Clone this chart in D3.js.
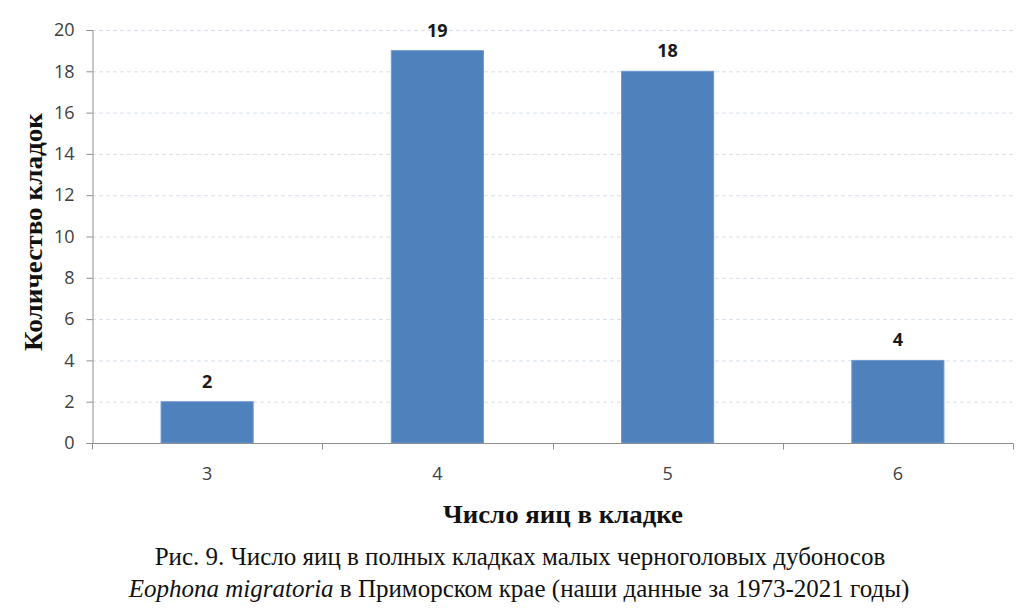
<!DOCTYPE html>
<html>
<head>
<meta charset="utf-8">
<script src="https://cdn.jsdelivr.net/npm/d3@7"></script>
<style>
	body { margin: 0; background: #fff; }
	svg { display: block; }
</style>
</head>
<body>
<div id="chart"></div>
<script>
var eggs = ["3", "4", "5", "6"];
var clutches = [2, 19, 18, 4];
var yTicks = [0, 2, 4, 6, 8, 10, 12, 14, 16, 18, 20];

var width = 1024,
	height = 610;
var plot = {left: 92, right: 1013, top: 30, bottom: 443};

var svg = d3.select("#chart")
	.append("svg")
	.attr("width", width)
	.attr("height", height);

var x = d3.scaleBand()
	.domain(eggs)
	.range([plot.left, plot.right])
	.paddingInner(0.6)
	.paddingOuter(0.3);

var y = d3.scaleLinear()
	.domain([0, 20])
	.range([plot.bottom, plot.top]);

// dashed grid
svg.append("g")
	.selectAll("line")
	.data(yTicks.filter(function(d) { return d > 0; }))
	.enter()
	.append("line")
	.attr("x1", plot.left)
	.attr("x2", plot.right)
	.attr("y1", function(d) { return y(d) + 0.5; })
	.attr("y2", function(d) { return y(d) + 0.5; })
	.attr("stroke", "#d6e0ec")
	.attr("stroke-width", 1)
	.attr("stroke-dasharray", "4,3");

// y axis
var yAxis = svg.append("g")
	.attr("transform", "translate(" + (plot.left + 0.5) + ",0)")
	.call(d3.axisLeft(y).tickValues(yTicks).tickSize(6).tickPadding(12));
yAxis.select(".domain").attr("stroke", "#8e8e8e");
yAxis.selectAll(".tick line").attr("stroke", "#8e8e8e");
yAxis.selectAll(".tick text")
	.attr("fill", "#404040")
	.attr("font-family", "'Open Sans', sans-serif")
	.attr("font-size", 18);

// bars
svg.append("g")
	.selectAll("rect")
	.data(clutches)
	.enter()
	.append("rect")
	.attr("x", function(d, i) { return x(eggs[i]); })
	.attr("width", x.bandwidth())
	.attr("y", function(d) { return y(d); })
	.attr("height", function(d) { return y(0) - y(d); })
	.attr("fill", "#4f81bd")
	.attr("stroke", "#6f99cc")
	.attr("stroke-width", 1);

// x axis: ticks at category boundaries
var xAxis = svg.append("g")
	.attr("transform", "translate(0," + (plot.bottom + 0.5) + ")");
xAxis.append("line")
	.attr("x1", plot.left)
	.attr("x2", plot.right)
	.attr("stroke", "#8e8e8e");
var bounds = eggs.map(function(d) { return x(d) - x.step() * x.paddingOuter(); });
bounds.push(plot.right);
xAxis.selectAll(".xt")
	.data(bounds)
	.enter()
	.append("line")
	.attr("x1", function(d) { return Math.round(d) + 0.5; })
	.attr("x2", function(d) { return Math.round(d) + 0.5; })
	.attr("y1", 0)
	.attr("y2", 6)
	.attr("stroke", "#8e8e8e");
xAxis.selectAll(".xl")
	.data(eggs)
	.enter()
	.append("text")
	.attr("x", function(d) { return x(d) + x.bandwidth() / 2; })
	.attr("y", 36)
	.attr("text-anchor", "middle")
	.attr("fill", "#404040")
	.attr("font-family", "'Open Sans', sans-serif")
	.attr("font-size", 18)
	.text(function(d) { return d; });

// value labels
svg.append("g")
	.selectAll("text")
	.data(clutches)
	.enter()
	.append("text")
	.attr("x", function(d, i) { return x(eggs[i]) + x.bandwidth() / 2; })
	.attr("y", function(d) { return y(d) - 14; })
	.attr("text-anchor", "middle")
	.attr("fill", "#1a1a1a")
	.attr("font-family", "'Open Sans', sans-serif")
	.attr("font-weight", "bold")
	.attr("font-size", 18)
	.text(function(d) { return d; });

// axis titles
svg.append("text")
	.attr("transform", "translate(42,232) rotate(-90)")
	.attr("text-anchor", "middle")
	.attr("fill", "#111")
	.attr("font-family", "'Liberation Serif', serif")
	.attr("font-weight", "bold")
	.attr("font-size", 25)
	.attr("textLength", 238)
	.attr("lengthAdjust", "spacingAndGlyphs")
	.text("Количество кладок");

svg.append("text")
	.attr("x", 563)
	.attr("y", 523)
	.attr("text-anchor", "middle")
	.attr("fill", "#111")
	.attr("font-family", "'Liberation Serif', serif")
	.attr("font-weight", "bold")
	.attr("font-size", 25)
	.attr("textLength", 240)
	.attr("lengthAdjust", "spacingAndGlyphs")
	.text("Число яиц в кладке");

// caption
var caption = svg.append("text")
	.attr("text-anchor", "middle")
	.attr("fill", "#111")
	.attr("font-family", "'Liberation Serif', serif")
	.attr("font-size", 25);
caption.append("tspan")
	.attr("x", 520)
	.attr("y", 565)
	.text("Рис. 9. Число яиц в полных кладках малых черноголовых дубоносов");
var line2 = caption.append("tspan")
	.attr("x", 519)
	.attr("y", 597);
line2.append("tspan")
	.attr("font-style", "italic")
	.text("Eophona migratoria");
line2.append("tspan")
	.text(" в Приморском крае (наши данные за 1973-2021 годы)");
</script>
</body>
</html>
